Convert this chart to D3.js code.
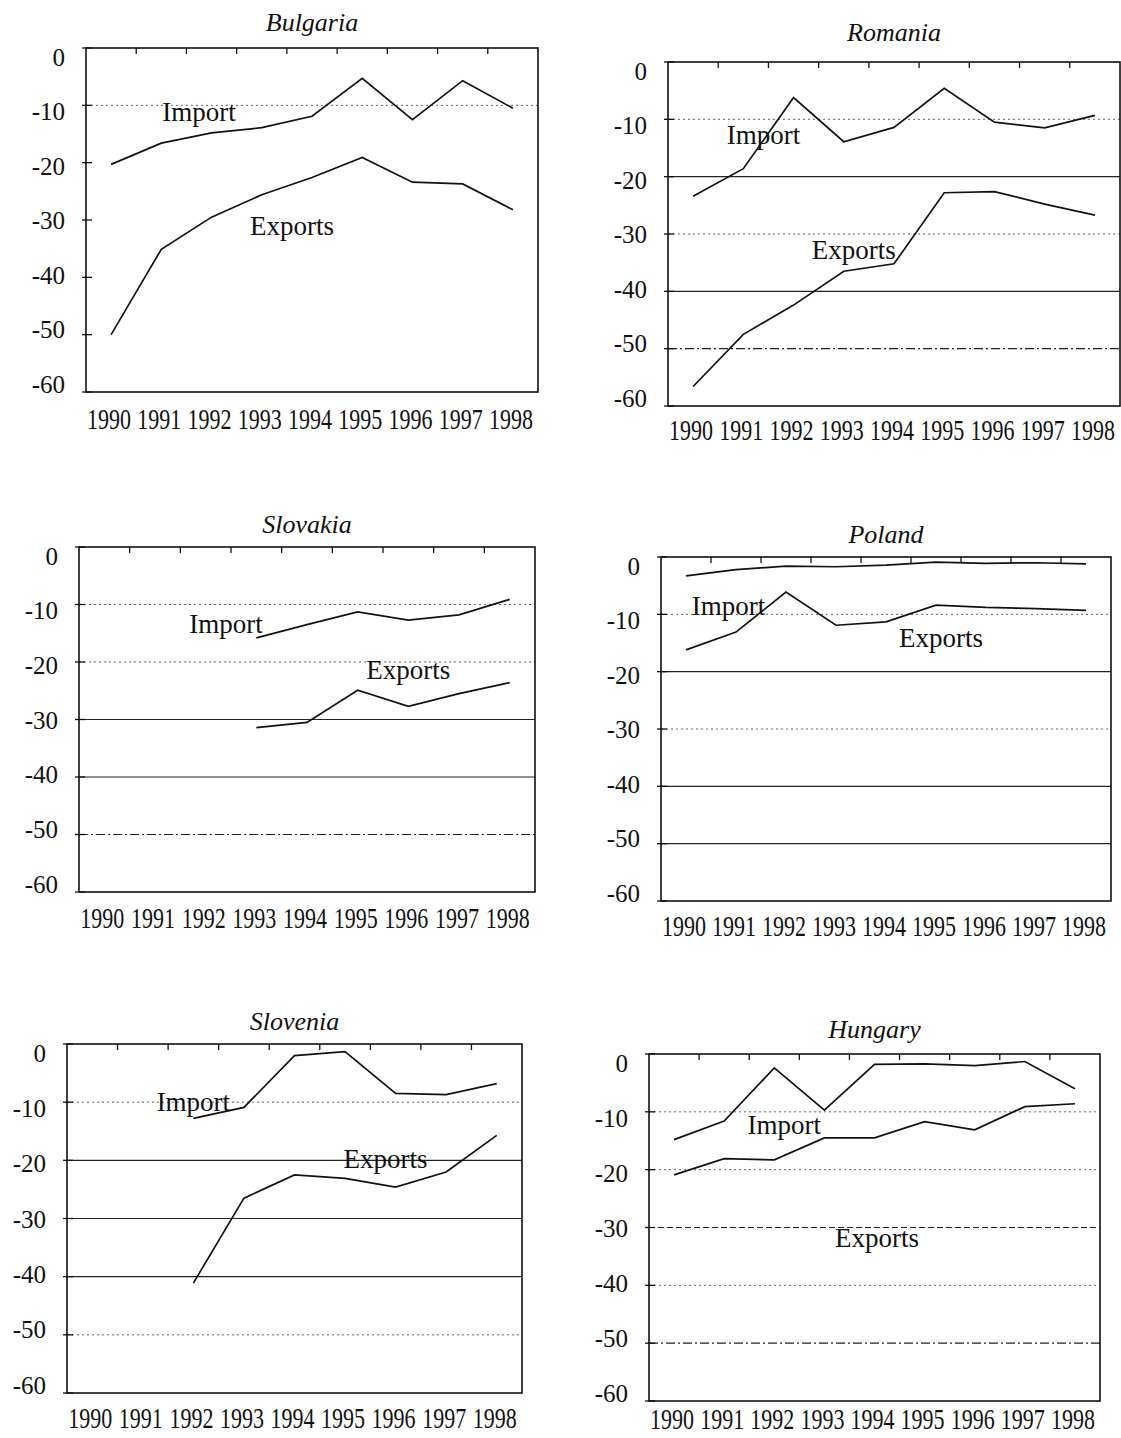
<!DOCTYPE html>
<html lang="en">
<head>
    <meta charset="UTF-8">
    <title>Import and Exports, 1990-1998</title>
    <script src="https://d3js.org/d3.v7.min.js"></script>
    <style>
        body { margin: 0; background: #fff; }
        svg { display: block; }
        text { font-family: "Liberation Serif", "Times New Roman", serif; fill: #111; }
        .title { font-style: italic; font-size: 26px; }
        .ylab { font-size: 25px; }
        .year { font-size: 22px; }
        .series-label { font-size: 27px; }
        .box { fill: none; stroke: #111; stroke-width: 1.6px; }
        .series { fill: none; stroke: #111; stroke-width: 1.7px; stroke-linejoin: miter; }
        .tick { stroke: #111; stroke-width: 1.3px; }
    </style>
</head>
<body>
    <svg width="1121" height="1438"></svg>
    <script>
        const years = ["1990", "1991", "1992", "1993", "1994", "1995", "1996", "1997", "1998"];
        const yTicks = [0, -10, -20, -30, -40, -50, -60];
        const countries = ["Bulgaria", "Romania", "Slovakia", "Poland", "Slovenia", "Hungary"];

        const bulgariaImport = [-20.3, -16.6, -14.8, -13.9, -11.9, -5.3, -12.5, -5.7, -10.5];
        const bulgariaExports = [-50.0, -35.1, -29.5, -25.6, -22.6, -19.1, -23.4, -23.7, -28.2];
        const romaniaImport = [-23.4, -18.6, -6.2, -13.9, -11.4, -4.6, -10.5, -11.5, -9.3];
        const romaniaExports = [-56.6, -47.5, -42.4, -36.5, -35.2, -22.8, -22.6, -24.8, -26.7];
        const slovakiaImport = [null, null, null, -15.8, -13.5, -11.3, -12.7, -11.8, -9.1];
        const slovakiaExports = [null, null, null, -31.4, -30.5, -24.9, -27.7, -25.5, -23.6];
        const polandImport = [-3.3, -2.2, -1.6, -1.7, -1.4, -0.9, -1.1, -1.0, -1.2];
        const polandExports = [-16.2, -13.1, -6.1, -11.9, -11.3, -8.4, -8.8, -9.0, -9.3];
        const sloveniaImport = [null, null, -12.8, -10.9, -2.0, -1.3, -8.5, -8.7, -6.8];
        const sloveniaExports = [null, null, -41.1, -26.5, -22.5, -23.1, -24.6, -22.0, -15.7];
        const hungaryImport = [-14.8, -11.6, -2.4, -9.7, -1.8, -1.7, -2.0, -1.3, -6.0];
        const hungaryExports = [-20.9, -18.1, -18.3, -14.5, -14.5, -11.7, -13.1, -9.1, -8.6];

        // where the "Import" / "Exports" words sit, in (year, value) units
        const importLabelAt = [[1991.75, -12.8], [1991.4, -14.3], [1992.4, -15], [1990.85, -10.1], [1992.0, -11.5], [1992.2, -13.9]];
        const exportsLabelAt = [[1993.6, -32.7], [1993.2, -34.4], [1996.0, -23], [1995.1, -15.7], [1995.8, -21.3], [1994.05, -33.4]];

        const importSeries = [bulgariaImport, romaniaImport, slovakiaImport, polandImport, sloveniaImport, hungaryImport];
        const exportsSeries = [bulgariaExports, romaniaExports, slovakiaExports, polandExports, sloveniaExports, hungaryExports];

        // panel frames (the scanned page layout)
        const frames = [
            { left: 86, top: 48, right: 538, bottom: 392, titleDy: 17, yearDy: 37 },
            { left: 668, top: 62, right: 1120, bottom: 406, titleDy: 21, yearDy: 34 },
            { left: 79, top: 547, right: 535, bottom: 892, titleDy: 14, yearDy: 36 },
            { left: 661, top: 557, right: 1111, bottom: 901, titleDy: 14, yearDy: 35 },
            { left: 67, top: 1044, right: 522, bottom: 1393, titleDy: 14, yearDy: 35 },
            { left: 649, top: 1054, right: 1100, bottom: 1401, titleDy: 16, yearDy: 28 }
        ];

        // how each gridline (-10 .. -50) came out in the print
        const gridStyles = [
            ["dot", "none", "none", "none", "none"],
            ["dot", "solid", "dot", "solid", "dashdot"],
            ["dot", "dot", "solid", "solid", "dashdot"],
            ["dot", "solid", "dot", "solid", "solid"],
            ["dot", "solid", "solid", "solid", "dot"],
            ["dot", "dot", "dash", "dot", "dashdot"]
        ];
        const dashes = { dot: "2,3", solid: null, dash: "6,3", dashdot: "9,3,2,3" };

        const svg = d3.select("svg");
        svg.append("rect").attr("width", 1121).attr("height", 1438).attr("fill", "#fff");

        countries.forEach((name, i) => {
            const f = frames[i];
            const g = svg.append("g");

            const x = d3.scalePoint().domain(years).range([f.left, f.right]).padding(0.5);
            const y = d3.scaleLinear().domain([0, -60]).range([f.top, f.bottom]);
            // tick labels in the print sit a little inside the frame
            const yLab = d3.scaleLinear().domain([0, -60]).range([f.top + 9, f.bottom - 8]);
            const xAt = yr => x("1990") + (yr - 1990) * x.step();

            // gridlines
            g.selectAll(".grid")
                .data(yTicks.slice(1, 6))
                .enter().append("line")
                .attr("x1", f.left).attr("x2", f.right)
                .attr("y1", d => y(d)).attr("y2", d => y(d))
                .attr("stroke", (d, k) => gridStyles[i][k] === "dot" ? "#666" : "#222")
                .attr("stroke-width", (d, k) => gridStyles[i][k] === "dot" ? 1 : 1.2)
                .attr("stroke-dasharray", (d, k) => dashes[gridStyles[i][k]])
                .style("display", (d, k) => gridStyles[i][k] === "none" ? "none" : null);

            // frame
            g.append("rect").attr("class", "box")
                .attr("x", f.left).attr("y", f.top)
                .attr("width", f.right - f.left).attr("height", f.bottom - f.top);

            // category ticks along the top (value axis crosses at 0)
            g.selectAll(".xtick")
                .data(years.slice(0, 8))
                .enter().append("line").attr("class", "tick")
                .attr("x1", d => x(d) + x.step() / 2).attr("x2", d => x(d) + x.step() / 2)
                .attr("y1", f.top).attr("y2", f.top + 6);

            // value ticks on the left edge
            g.selectAll(".ytick")
                .data(yTicks)
                .enter().append("line").attr("class", "tick")
                .attr("x1", f.left - 4).attr("x2", f.left + 6)
                .attr("y1", d => y(d)).attr("y2", d => y(d));

            g.selectAll(".ylab")
                .data(yTicks)
                .enter().append("text").attr("class", "ylab")
                .attr("x", f.left - 21)
                .attr("y", d => yLab(d))
                .attr("dy", "0.35em")
                .attr("text-anchor", "end")
                .text(d => d);

            // year labels are printed narrow and tall
            g.selectAll(".year")
                .data(years)
                .enter().append("text").attr("class", "year")
                .attr("transform", d => `translate(${x(d) - 2},${f.bottom + f.yearDy}) scale(1,1.3)`)
                .attr("text-anchor", "middle")
                .text(d => d);

            g.append("text").attr("class", "title")
                .attr("x", (f.left + f.right) / 2)
                .attr("y", f.top - f.titleDy)
                .attr("text-anchor", "middle")
                .text(name);

            const line = d3.line()
                .defined(d => d.v !== null)
                .x(d => x(d.year))
                .y(d => y(d.v));

            [importSeries[i], exportsSeries[i]].forEach(vals => {
                g.append("path").attr("class", "series")
                    .datum(years.map((yr, k) => ({ year: yr, v: vals[k] })))
                    .attr("d", line);
            });

            [["Import", importLabelAt[i]], ["Exports", exportsLabelAt[i]]].forEach(([txt, at]) => {
                g.append("text").attr("class", "series-label")
                    .attr("x", xAt(at[0]))
                    .attr("y", y(at[1]))
                    .attr("text-anchor", "middle")
                    .text(txt);
            });
        });
    </script>
</body>
</html>
